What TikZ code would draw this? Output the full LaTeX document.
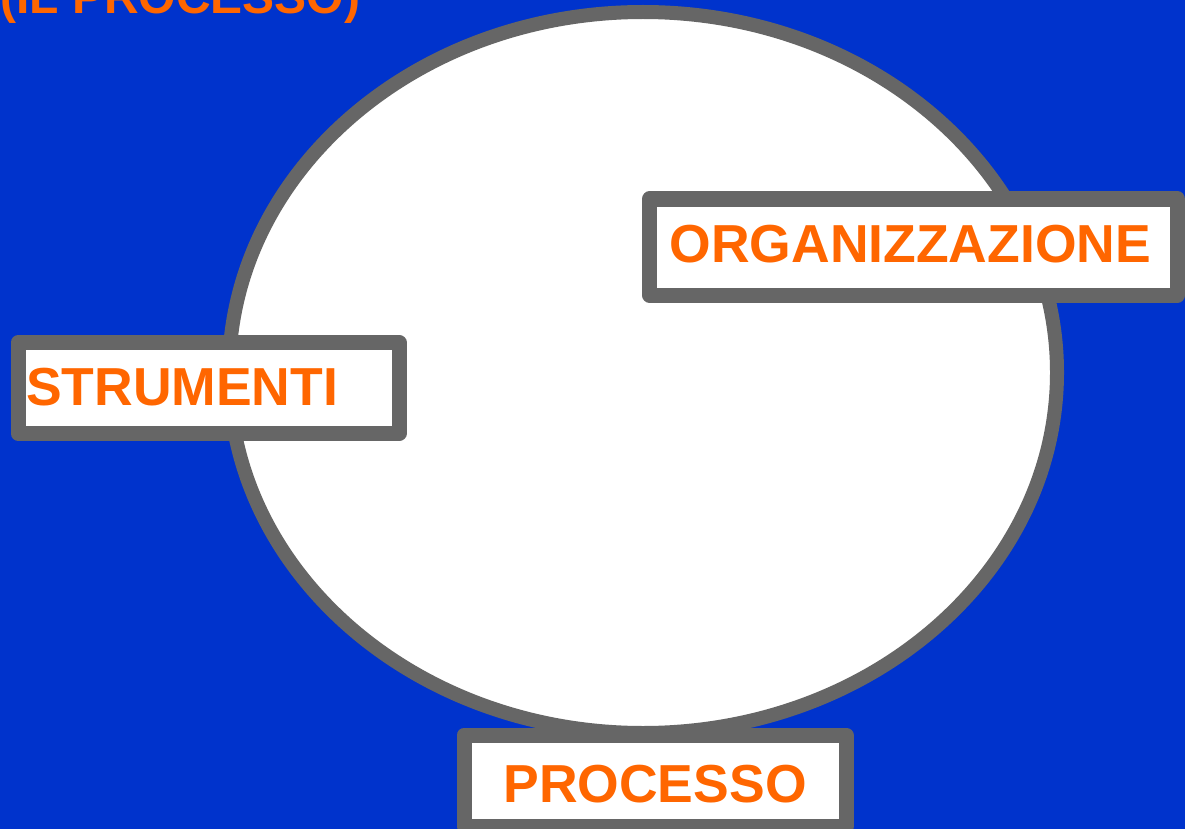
\documentclass[tikz,border=0pt]{standalone}
\usepackage{fontspec}
\setmainfont{Liberation Sans}
\definecolor{sfondo}{RGB}{0,51,204}
\definecolor{bordo}{RGB}{102,102,102}
\definecolor{arancio}{RGB}{255,102,0}
\begin{document}
\begin{tikzpicture}[x=1pt,y=-1pt,
  casella/.style={draw=bordo,fill=white,line width=15pt,line join=round,inner sep=0pt,
    text=arancio,font=\fontsize{53.5}{60}\selectfont\bfseries}]
\useasboundingbox (0,0) rectangle (1185,829);
\fill[sfondo] (0,0) rectangle (1185,829);
\node[anchor=base west,inner sep=0pt,text=arancio,font=\fontsize{48}{54}\selectfont\bfseries] (titolo) at (0,14) {(IL PROCESSO)};
\draw[draw=bordo,fill=white,line width=14pt] (643,372.5) ellipse [x radius=414,y radius=360.5];
\node[casella,minimum width=528pt,minimum height=96pt,text width=488pt,align=left,text depth=7pt] (organizzazione) at (913.5,247) {ORGANIZZAZIONE};
\node[casella,minimum width=381pt,minimum height=91pt,text width=365pt,align=left,text depth=3pt] (strumenti) at (208.5,388) {STRUMENTI};
\node[casella,minimum width=382pt,minimum height=91pt,align=center,text height=43pt,text depth=0pt] (processo) at (655,780.5) {PROCESSO};
\end{tikzpicture}
\end{document}
